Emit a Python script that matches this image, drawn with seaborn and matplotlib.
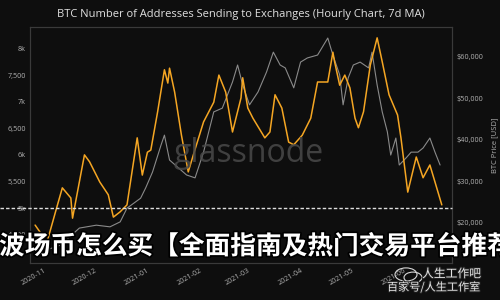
import matplotlib
matplotlib.use("Agg")
import matplotlib.pyplot as plt
import matplotlib.dates as mdates
import matplotlib.ticker as mticker
import matplotlib.patheffects as pe
from matplotlib.patches import Circle
import seaborn as sns
import pandas as pd

# ---- data ----
addr_dates = ["2020-10-25", "2020-11-01", "2020-11-06", "2020-11-10", "2020-11-15", "2020-11-16",
              "2020-11-23", "2020-11-26", "2020-12-02", "2020-12-07", "2020-12-10", "2020-12-14",
              "2020-12-18", "2020-12-24", "2020-12-27", "2020-12-30", "2021-01-01", "2021-01-05",
              "2021-01-09", "2021-01-11", "2021-01-12", "2021-01-15", "2021-01-19", "2021-01-23",
              "2021-01-26", "2021-02-01", "2021-02-07", "2021-02-10", "2021-02-14", "2021-02-18",
              "2021-02-23", "2021-02-24", "2021-02-27", "2021-03-02", "2021-03-09", "2021-03-12",
              "2021-03-15", "2021-03-19", "2021-03-23", "2021-03-26", "2021-03-31", "2021-04-05",
              "2021-04-09", "2021-04-15", "2021-04-18", "2021-04-19", "2021-04-22", "2021-04-25",
              "2021-04-28", "2021-05-01", "2021-05-03", "2021-05-06", "2021-05-10", "2021-05-14",
              "2021-05-17", "2021-05-21", "2021-05-26", "2021-05-28", "2021-06-01", "2021-06-06",
              "2021-06-10", "2021-06-14", "2021-06-17", "2021-06-21"]
addr_values = [4680, 4360, 4930, 5380, 5190, 4810, 6000, 5870, 5490, 5250, 4830, 4930,
               5060, 6320, 5620, 6050, 6090, 6810, 7600, 7350, 7630, 7180, 6370, 5680,
               6000, 6620, 6990, 7500, 7180, 6430, 7070, 7450, 6880, 6690, 6320, 6430,
               7130, 6880, 6240, 6190, 6370, 6690, 7370, 7370, 7930, 7750, 7310, 7500,
               7260, 6690, 6510, 6810, 7690, 8200, 7750, 7130, 6750, 6320, 5300, 5960,
               5570, 5810, 5490, 5060]

price_dates = ["2020-10-28", "2020-11-09", "2020-11-20", "2020-11-30", "2020-12-08", "2020-12-14",
               "2020-12-18", "2020-12-26", "2020-12-29", "2021-01-02", "2021-01-07", "2021-01-09",
               "2021-01-12", "2021-01-22", "2021-01-27", "2021-02-01", "2021-02-07", "2021-02-12",
               "2021-02-18", "2021-02-21", "2021-02-24", "2021-02-28", "2021-03-05", "2021-03-10",
               "2021-03-14", "2021-03-18", "2021-03-21", "2021-03-26", "2021-03-30", "2021-04-03",
               "2021-04-09", "2021-04-15", "2021-04-18", "2021-04-22", "2021-04-24", "2021-04-27",
               "2021-04-30", "2021-05-04", "2021-05-09", "2021-05-11", "2021-05-14", "2021-05-17",
               "2021-05-20", "2021-05-22", "2021-05-25", "2021-05-27", "2021-05-31", "2021-06-03",
               "2021-06-07", "2021-06-10", "2021-06-14", "2021-06-17", "2021-06-20"]
price_values = [12900, 14600, 18700, 19400, 19000, 20200, 23500, 25900, 28400, 32200, 38700, 41100,
                35100, 31500, 30800, 37000, 46700, 47600, 53900, 58000, 53200, 48400, 51500, 56300,
                61100, 58000, 57300, 52500, 58700, 59700, 60400, 64500, 60400, 55600, 48400, 54900,
                58000, 58700, 57300, 61100, 53200, 46700, 41900, 36300, 40400, 33900, 35600, 37000,
                37000, 38000, 40400, 37000, 33900]

left_ticks = [4500, 5000, 5500, 6000, 6500, 7000, 7500, 8000]
right_ticks = [20000, 30000, 40000, 50000, 60000]

title = "BTC Number of Addresses Sending to Exchanges (Hourly Chart, 7d MA)"
overlay = "波场币怎么买【全面指南及热门交易平台推荐"

# ---- style ----
BG = "#0e0e0e"
sns.set_theme(style="dark")
plt.rcParams["font.family"] = ["Open Sans", "DejaVu Sans"]

fig = plt.figure(figsize=(5, 3), dpi=100, facecolor=BG)
ax = fig.add_axes([0.06, 0.1233, 0.844, 0.7867])
ax2 = ax.twinx()

addr = pd.DataFrame({"date": pd.to_datetime(addr_dates), "value": addr_values})
price = pd.DataFrame({"date": pd.to_datetime(price_dates), "value": price_values})

sns.lineplot(data=price, x="date", y="value", ax=ax2, color="#8a8a8a", linewidth=0.8)
sns.lineplot(data=addr, x="date", y="value", ax=ax, color="#f5a623", linewidth=1.1)

ax.set_zorder(ax2.get_zorder() + 1)
ax.patch.set_visible(False)
ax2.set_facecolor(BG)

ax.set_xlim(pd.Timestamp("2020-10-22"), pd.Timestamp("2021-06-27"))
ax.set_ylim(3967, 8404)
ax2.set_ylim(10283, 67158)

ax.set_yticks(left_ticks)
ax.yaxis.set_major_formatter(mticker.FuncFormatter(
    lambda v, p: f"{int(v)//1000}k" if int(v) % 1000 == 0 else f"{int(v):,}"))
ax2.set_yticks(right_ticks)
ax2.yaxis.set_major_formatter(mticker.FuncFormatter(lambda v, p: f"${int(v):,}"))

ax.xaxis.set_major_locator(mdates.MonthLocator())
ax.xaxis.set_major_formatter(mdates.DateFormatter("%Y-%m"))
for lbl in ax.get_xticklabels():
    lbl.set_rotation(30)
    lbl.set_ha("right")

tick_col = "#b0b0b0"
for a in (ax, ax2):
    a.tick_params(axis="both", colors=tick_col, labelsize=5.2, length=0, pad=3)
    a.grid(False)
    a.set_xlabel("")
    a.set_ylabel("")
    for s in a.spines.values():
        s.set_color("#3a3a3a")
        s.set_linewidth(0.8)
ax2.set_ylabel("BTC Price [USD]", color=tick_col, fontsize=5.5, labelpad=6)

fig.text(0.482, 0.95, title, ha="center", va="center", color="#e0e0e0", fontsize=8)

# glassnode watermark
fig.text(0.497, 0.49, "glassnode", ha="center", va="center", color="#4a4a4a",
         fontsize=23, alpha=0.85, zorder=5)

# dashed horizontal line
ax.axhline(5000, xmin=-30 / 422, xmax=1.0, clip_on=False, color="#dddddd",
           linestyle=(0, (2.5, 1.5)), linewidth=1.0, zorder=10)

# Chinese overlay title
fig.text(-0.002, 0.178, overlay, ha="left", va="center", color="white",
         fontsize=18.5, fontweight="heavy", family=["Noto Sans CJK SC", "DejaVu Sans"],
         path_effects=[pe.withStroke(linewidth=2.5, foreground="black")], zorder=20)

# bottom-right watermark
wm_fx = [pe.withStroke(linewidth=1.5, foreground="#222222")]
fig.text(0.844, 0.087, "人生工作吧", ha="left", va="center", color="#e8e8e8",
         fontsize=8.5, family=["Noto Sans CJK SC", "DejaVu Sans"], path_effects=wm_fx, zorder=20)
fig.text(0.774, 0.043, "百家号/人生工作室", ha="left", va="center", color="#e8e8e8",
         fontsize=8, family=["Noto Sans CJK SC", "DejaVu Sans"], path_effects=wm_fx, zorder=20)
for (cx, cy, r) in [(0.812, 0.085, 0.022), (0.826, 0.075, 0.018)]:
    fig.patches.append(Circle((cx, cy), r, transform=fig.transFigure, facecolor="none",
                              edgecolor="#d8d8d8", linewidth=0.8, zorder=19))

fig.savefig("out.png", dpi=100, facecolor=BG)
